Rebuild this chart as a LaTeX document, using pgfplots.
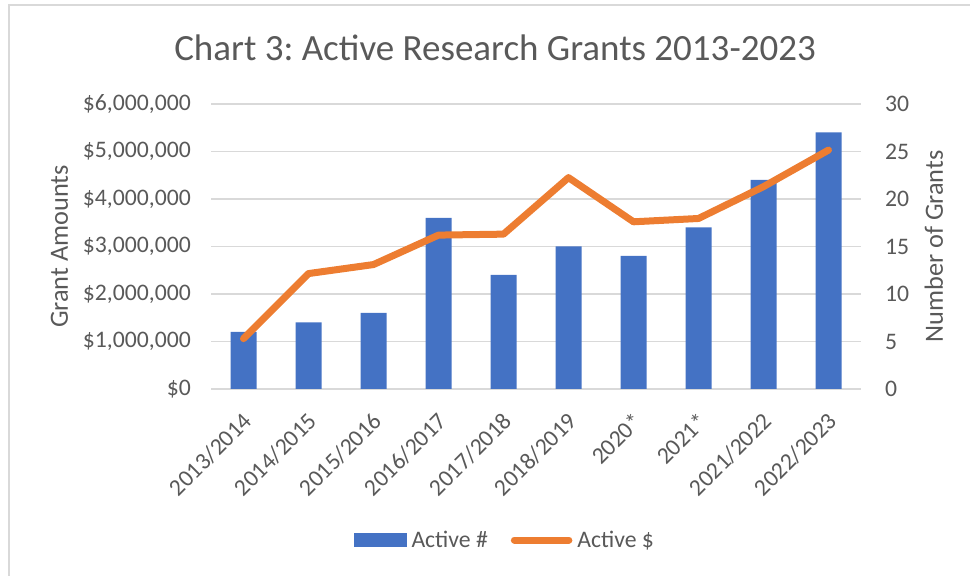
\documentclass[border=0pt]{standalone}
\usepackage{fontspec}
\setmainfont{Carlito}
\usepackage{pgfplots}
\pgfplotsset{compat=1.18}
\definecolor{barblue}{HTML}{4472C4}
\definecolor{lineor}{HTML}{ED7D31}
\definecolor{txtgray}{HTML}{595959}
\definecolor{gridgray}{HTML}{D9D9D9}
\frenchspacing
\begin{document}
\begin{tikzpicture}
\useasboundingbox (0,0) rectangle (970pt,576pt);
\draw[gridgray, line width=2pt] (8.5pt,0pt) -- (8.5pt,571pt) -- (970pt,571pt);
\node[anchor=base, text=txtgray, font=\fontsize{37}{44}\selectfont, inner sep=0pt] at (495pt,515pt) {Chart 3: Active Research Grants 2013-2023};
\pgfplotsset{
  common/.style={
    at={(211pt,187pt)}, anchor=south west,
    scale only axis, width=650pt, height=285pt,
    xmin=-0.5, xmax=9.5, ymin=0,
    axis line style={draw=none},
    tick style={draw=none},
    scaled y ticks=false,
    ticklabel style={text=txtgray, font=\fontsize{23.7}{28}\selectfont, inner sep=0pt},
  }
}
\begin{axis}[common,
  ymax=30,
  ytick={0,5,10,15,20,25,30},
  yticklabels={0,5,10,15,20,25,30},
  yticklabel pos=right,
  yticklabel style={xshift=24pt},
  ymajorgrids,
  major grid style={gridgray, line width=1.5pt},
  xtick={0,1,2,3,4,5,6,7,8,9},
  xticklabels={2013/2014,2014/2015,2015/2016,2016/2017,2017/2018,2018/2019,2020*,2021*,2021/2022,2022/2023},
  xticklabel style={anchor=north east, xshift=-2pt, yshift=-22pt, rotate=45},
  every axis y label/.style={at={(axis description cs:1.126,0.5)}, rotate=90, anchor=base, text=txtgray, font=\fontsize{26.3}{31}\selectfont},
  ylabel={Number of Grants},
]
\addplot[ybar, bar width=26pt, fill=barblue, draw=none] coordinates {
(0,6) (1,7) (2,8) (3,18) (4,12) (5,15) (6,14) (7,17) (8,22) (9,27)};
\end{axis}
\begin{axis}[common,
  ymax=6000000,
  ytick={0,1000000,2000000,3000000,4000000,5000000,6000000},
  yticklabels={\$0,\$1{,}000{,}000,\$2{,}000{,}000,\$3{,}000{,}000,\$4{,}000{,}000,\$5{,}000{,}000,\$6{,}000{,}000},
  yticklabel style={xshift=-20pt},
  xtick=\empty,
  every axis y label/.style={at={(axis description cs:-0.22,0.5)}, rotate=90, anchor=base, text=txtgray, font=\fontsize{26.3}{31}\selectfont},
  ylabel={Grant Amounts},
  legend columns=2,
  legend style={at={(axis description cs:0.4508,-0.53)}, anchor=center, draw=none, fill=none,
    font=\fontsize{23.7}{28}\selectfont, text=txtgray,
    nodes={inner sep=0pt},
    /tikz/every odd column/.append style={column sep=5pt},
    /tikz/every even column/.append style={column sep=23pt}},
]
\addlegendimage{legend image code/.code={\fill[barblue] (0pt,-6.5pt) rectangle (52pt,6.5pt);}}
\addlegendentry{Active \#}
\addplot[lineor, line width=7pt, line cap=round, line join=round,
  legend image code/.code={\path (0pt,0pt) -- (52pt,0pt); \draw[lineor, line width=7pt, line cap=round] (3.5pt,0pt) -- (54.5pt,0pt);}]
 coordinates {
(0,1060000) (1,2430000) (2,2620000) (3,3240000) (4,3260000) (5,4450000) (6,3520000) (7,3590000) (8,4260000) (9,5030000)};
\addlegendentry{Active \$}
\end{axis}
\end{tikzpicture}
\end{document}
